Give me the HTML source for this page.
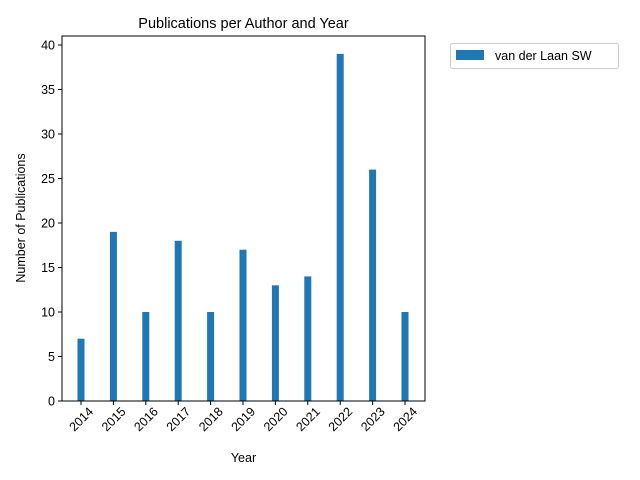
<!DOCTYPE html>
<html><head><meta charset="utf-8"><style>
body{margin:0;background:#fff;}
svg{display:block;font-family:"Liberation Sans","DejaVu Sans",sans-serif;}
</style></head><body>
<svg id="chart" width="640" height="480" viewBox="0 0 640 480">
<rect width="640" height="480" fill="#fff"/>
<text x="243.5" y="28" font-size="14.5" text-anchor="middle">Publications per Author and Year</text>
<g id="bars"></g>
<g id="yticks"></g>
<g id="xticks"></g>
<rect x="62" y="36" width="363" height="365" fill="none" stroke="#000" stroke-width="1"/>
<text x="243.5" y="462" font-size="12.5" text-anchor="middle">Year</text>
<text transform="translate(25,218) rotate(-90)" font-size="12.5" text-anchor="middle">Number of Publications</text>
<g>
<rect x="450.5" y="43.5" width="168" height="25" rx="2" fill="#fff" stroke="#ccc"/>
<rect x="456" y="50" width="28" height="10" fill="#1f77b4"/>
<text x="495" y="60" font-size="12.5">van der Laan SW</text>
</g>
</svg>
<script>
const years = [2014,2015,2016,2017,2018,2019,2020,2021,2022,2023,2024];
const counts = [7,19,10,18,10,17,13,14,39,26,10];
const yTicks = [0,5,10,15,20,25,30,35,40];
const NS = "http://www.w3.org/2000/svg";
const x0 = 81, xStep = 32.4;
function xScale(v){ return x0 + (v - years[0]) * xStep; }
function yScale(v){ return 401 - v * 8.9; }
const bars = document.getElementById('bars');
years.forEach((yr,i)=>{
  const r = document.createElementNS(NS,'rect');
  r.setAttribute('x', xScale(yr) - 3.5);
  r.setAttribute('y', yScale(counts[i]));
  r.setAttribute('width', 7);
  r.setAttribute('height', yScale(0) - yScale(counts[i]));
  r.setAttribute('fill', '#1f77b4');
  
  
  bars.appendChild(r);
});
const yt = document.getElementById('yticks');
yTicks.forEach(v=>{
  const y = yScale(v);
  const l = document.createElementNS(NS,'line');
  l.setAttribute('x1',58); l.setAttribute('x2',62);
  l.setAttribute('y1',y); l.setAttribute('y2',y);
  l.setAttribute('stroke','#000');
  
  
  yt.appendChild(l);
  const t = document.createElementNS(NS,'text');
  t.setAttribute('x',55); t.setAttribute('y',y+4.5);
  t.setAttribute('font-size','12.5'); t.setAttribute('text-anchor','end');
  t.textContent = v;
  
  
  yt.appendChild(t);
});
const xt = document.getElementById('xticks');
years.forEach(yr=>{
  const x = xScale(yr);
  const l = document.createElementNS(NS,'line');
  l.setAttribute('x1',x); l.setAttribute('x2',x);
  l.setAttribute('y1',401); l.setAttribute('y2',405);
  l.setAttribute('stroke','#000');
  
  
  xt.appendChild(l);
  const t = document.createElementNS(NS,'text');
  t.setAttribute('transform','translate('+x+',419) rotate(-45)');
  t.setAttribute('font-size','12.5'); t.setAttribute('text-anchor','middle');
  t.setAttribute('dy','4.5');
  t.textContent = yr;
  
  
  xt.appendChild(t);
});
</script>
</body></html>
